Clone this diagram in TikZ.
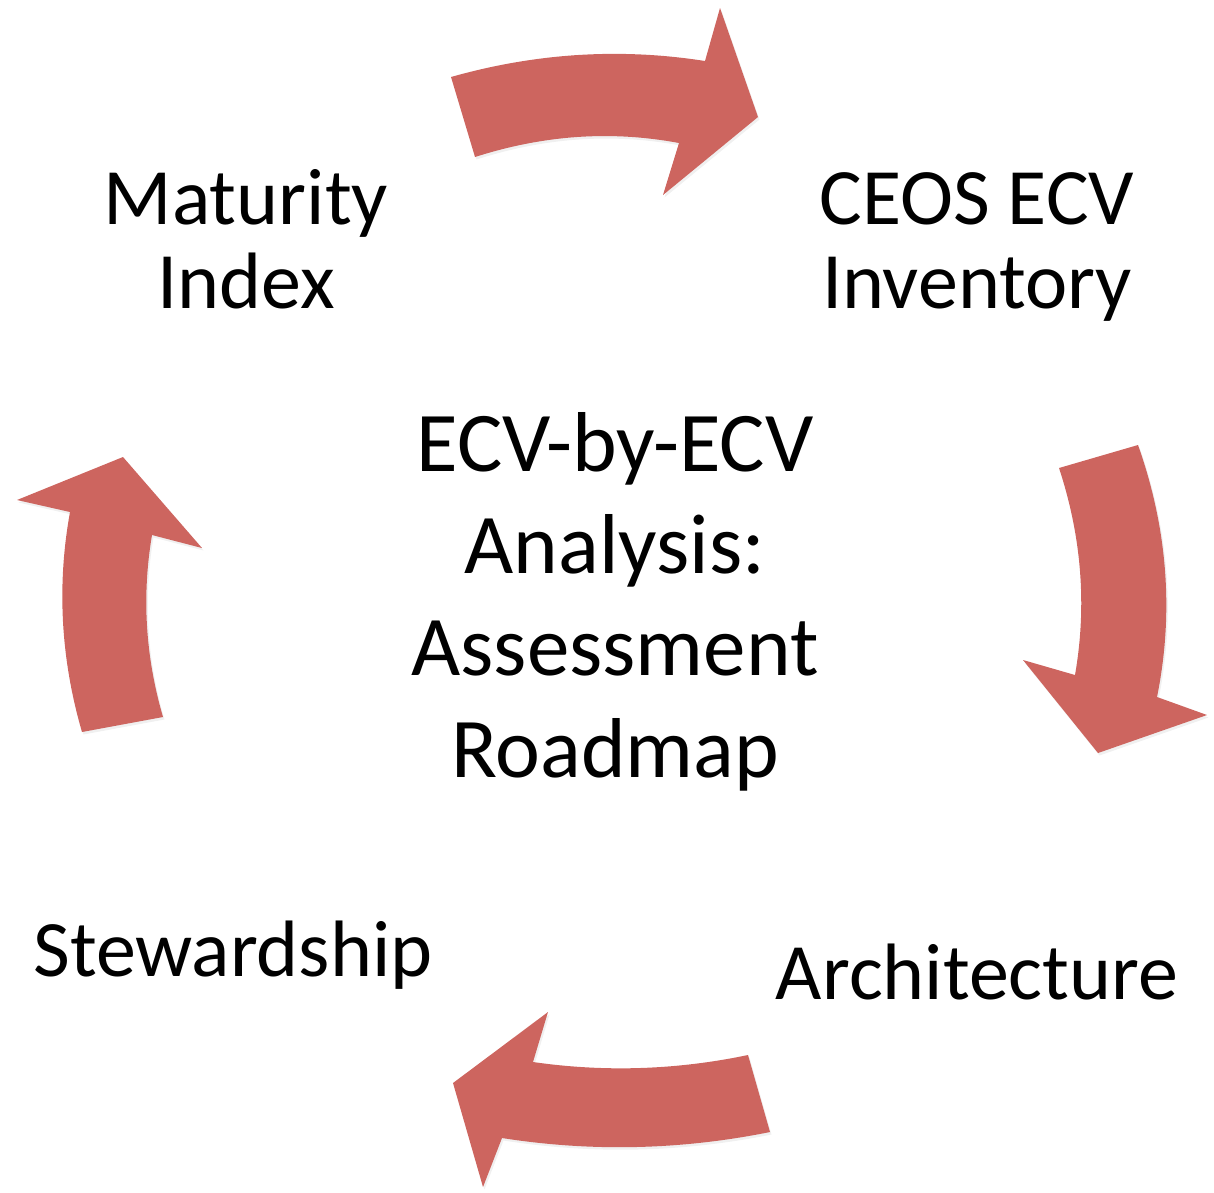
\documentclass[tikz,border=0pt]{standalone}
\usepackage{fontspec}
\setmainfont{Carlito}
\usetikzlibrary{shadows}
\definecolor{arrowred}{RGB}{205,101,95}
\tikzset{
  cyclearrow/.style={fill=arrowred, draw=none, drop shadow={opacity=0.12, shadow xshift=1.5pt, shadow yshift=-2.5pt}},
  outer/.style={font=\fontsize{80}{84}\selectfont, align=center, inner sep=0pt},
  centertext/.style={font=\fontsize{85}{102}\selectfont, align=center, inner sep=0pt}
}
\begin{document}
\begin{tikzpicture}[x=1pt,y=-1pt]
\useasboundingbox (0,0) rectangle (1214,1192);
% top arrow
\path[cyclearrow] (451,77) .. controls (535.7,53) and (620.3,47.7) .. (705,61) -- (720,8) -- (758,117) -- (663,195) -- (679,143) .. controls (611,130.3) and (543.7,135) .. (475,157) -- cycle;
% right arrow
\path[cyclearrow] (1059,468) -- (1138,445) .. controls (1167.7,529) and (1174,613) .. (1157,697) -- (1207,715) -- (1098,753) -- (1023,660) -- (1075,675) .. controls (1087,606) and (1081.7,537) .. (1059,468) -- cycle;
% bottom arrow
\path[cyclearrow] (748,1055) -- (770,1132) .. controls (680.7,1150) and (591.3,1152) .. (502,1138) -- (483,1187) -- (453,1083) -- (548,1012) -- (533,1062) .. controls (604.7,1072.3) and (676.3,1070) .. (748,1055) -- cycle;
% left arrow
\path[cyclearrow] (82,732) -- (163,717) .. controls (145.3,656.3) and (141.7,595.7) .. (152,535) -- (202,548) -- (123,457) -- (17,500) -- (70,512) .. controls (56.7,585.3) and (60.7,658.7) .. (82,732) -- cycle;
% texts
\node[outer, anchor=base] (mat) at (246,308) {Maturity\\Index};
\node[outer, anchor=base] (ceos) at (977,308) {CEOS ECV\\Inventory};
\node[outer, anchor=base] (stew) at (233,976) {Stewardship};
\node[outer, anchor=base] (arch) at (977,999) {Architecture};
\node[centertext] (center) at (615,602) {ECV-by-ECV\\Analysis:\\Assessment\\Roadmap};
\end{tikzpicture}
\end{document}
